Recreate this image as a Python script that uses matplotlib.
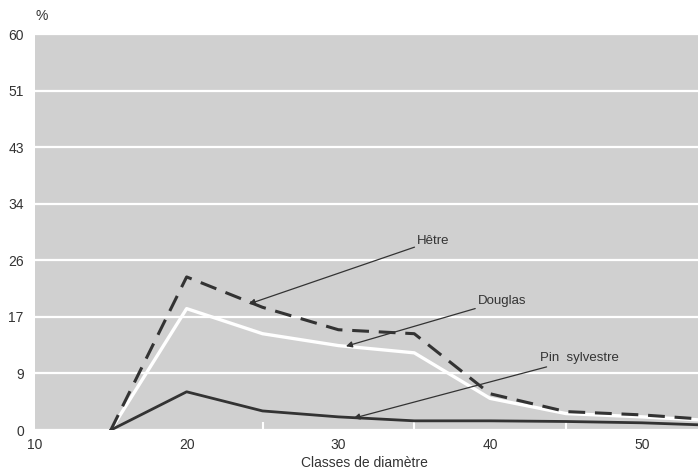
import numpy as np
import matplotlib
matplotlib.use("Agg")
import matplotlib.pyplot as plt

plt.rcParams['font.family'] = ['Liberation Sans', 'DejaVu Sans']

# diameter classes
classes = [15, 20, 25, 30, 35, 40, 45, 50, 55]

# share of stems (%) per class
hetre = [0, 23.2, 18.6, 15.2, 14.6, 5.5, 2.8, 2.3, 1.5]
douglas = [0, 18.4, 14.6, 12.8, 11.7, 4.8, 2.5, 2.0, 1.4]
pin_sylvestre = [0, 5.8, 2.9, 2.0, 1.4, 1.4, 1.3, 1.1, 0.7]

ytick_vals = np.linspace(0, 60, 8)
ytick_labels = ['0', '9', '17', '26', '34', '43', '51', '60']
xtick_vals = [10, 20, 30, 40, 50]

dark = '#333333'
bg = '#d0d0d0'

fig = plt.figure(figsize=(6.98, 4.69), dpi=100)
ax = fig.add_axes([0.05, 0.083, 0.95, 0.8445])
ax.set_facecolor(bg)

for v in ytick_vals:
    ax.axhline(v, color='white', lw=1.6, zorder=1)

ax.plot(classes, douglas, color='white', lw=2.4, zorder=3, solid_joinstyle='round')
ax.plot(classes, hetre, color=dark, lw=2.2, dashes=(5.5, 3.2), zorder=4)
ax.plot(classes, pin_sylvestre, color=dark, lw=2.0, zorder=4)

ax.set_xlim(10, 53.7)
ax.set_ylim(0, 60)

ax.set_yticks(ytick_vals)
ax.set_yticklabels(ytick_labels)
ax.set_xticks(xtick_vals)
ax.set_xticks([20, 25, 30, 35, 40, 45, 50], minor=True)
ax.tick_params(axis='y', length=0, pad=8, labelsize=10, labelcolor=dark)
ax.tick_params(axis='x', which='major', length=0, pad=6, labelsize=10, labelcolor=dark)
ax.tick_params(axis='x', which='minor', direction='in', length=6, width=1.5, color='white')
for s in ax.spines.values():
    s.set_visible(False)

arrow = dict(arrowstyle='-|>', color=dark, lw=0.9, mutation_scale=9, shrinkA=0, shrinkB=0)
ax.annotate('Hêtre', xy=(24.1, 19.1), xytext=(35.2, 28.7), fontsize=9.5, color=dark,
            va='center', ha='left', arrowprops=arrow)
ax.annotate('Douglas', xy=(30.5, 12.7), xytext=(39.2, 19.6), fontsize=9.5, color=dark,
            va='center', ha='left', arrowprops=arrow)
ax.annotate('Pin  sylvestre', xy=(31.0, 1.8), xytext=(43.3, 10.9), fontsize=9.5, color=dark,
            va='center', ha='left', arrowprops=arrow)

fig.text(0.06, 0.965, '%', fontsize=10, color=dark, ha='center', va='center')
fig.text(0.522, 0.013, 'Classes de diamètre', fontsize=10, color=dark, ha='center', va='center')

fig.savefig('out.png', dpi=100)
